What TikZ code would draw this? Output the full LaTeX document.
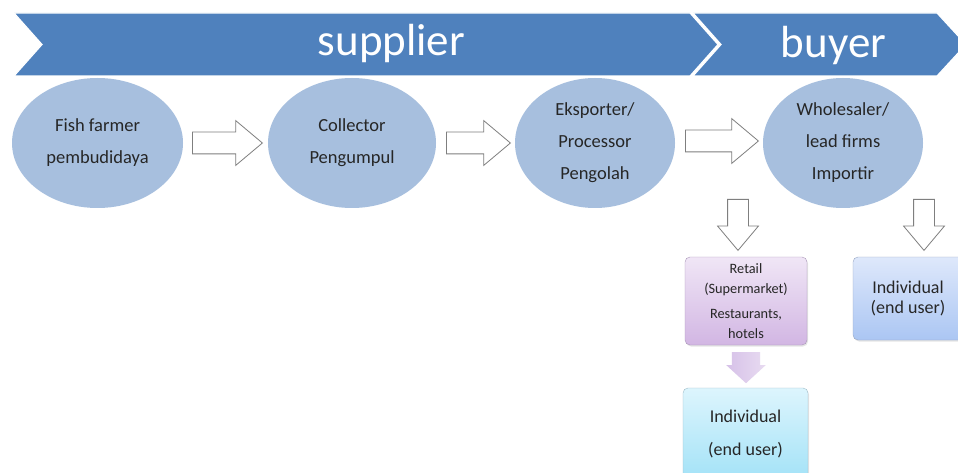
\documentclass[tikz,border=0pt]{standalone}
\usepackage{fontspec}
\setmainfont{Carlito}
\usetikzlibrary{shapes.geometric,shapes.arrows,shadows}
\definecolor{bannerblue}{HTML}{4F81BD}
\definecolor{ellblue}{HTML}{A7BFDE}
\definecolor{arrowgrey}{HTML}{7F7F7F}
\definecolor{retailtop}{HTML}{F0E6F6}
\definecolor{retailbot}{HTML}{D2B6E3}
\definecolor{retailborder}{HTML}{A996B8}
\definecolor{indtop}{HTML}{DEE8FB}
\definecolor{indbot}{HTML}{ABC6F3}
\definecolor{indborder}{HTML}{97A6C2}
\definecolor{cyantop}{HTML}{DDF5FD}
\definecolor{cyanbot}{HTML}{A3E2F7}
\definecolor{cyanborder}{HTML}{9DBBC8}
\definecolor{purpA}{HTML}{D6C1E8}
\definecolor{purpB}{HTML}{E8DBF1}
\begin{document}
\begin{tikzpicture}[x=1pt,y=-1pt,
  chevron/.style={fill=bannerblue,draw=white,line width=1.2pt,line join=miter},
  bannertext/.style={text=white,font=\fontsize{45}{50}\selectfont,anchor=base,inner sep=0pt},
  actor/.style={ellipse,fill=ellblue,inner sep=0pt,align=center,text=black!85,
    font=\fontsize{18.5}{32}\selectfont},
  flowarrow/.style={single arrow,draw=arrowgrey,fill=white,line width=0.8pt,anchor=tail,
    inner xsep=0pt,inner ysep=10.5pt,single arrow head extend=11.5pt,single arrow tip angle=80},
  downarrow/.style={flowarrow,inner ysep=10pt,single arrow head extend=10pt,
    minimum height=51pt,rotate=-90},
  outbox/.style={rounded corners=5pt,inner sep=0pt,align=center,text=black!85,
    drop shadow={opacity=0.2,shadow xshift=1pt,shadow yshift=-1.5pt}},
  retailbox/.style={outbox,draw=retailborder,top color=retailtop,bottom color=retailbot,
    minimum width=122pt,minimum height=88pt,font=\fontsize{14.3}{19.5}\selectfont},
  indbox/.style={outbox,draw=indborder,top color=indtop,bottom color=indbot,
    minimum width=110pt,minimum height=83pt,font=\fontsize{18}{20}\selectfont},
  cyanbox/.style={outbox,draw=cyanborder,top color=cyantop,bottom color=cyanbot,
    minimum width=125pt,minimum height=92pt,font=\fontsize{18}{33}\selectfont},
  softarrow/.style={single arrow,draw=none,left color=purpA,right color=purpB,anchor=tail,
    inner xsep=0pt,inner ysep=14pt,single arrow head extend=5.5pt,single arrow tip angle=95,
    minimum height=31pt,rotate=-90}
]
\clip (0,0) rectangle (958,473);
\fill[white] (0,0) rectangle (958,473);

% banner
\draw[chevron] (14,13) -- (690,13) -- (718,44.5) -- (690,76) -- (14,76) -- (42,44.5) -- cycle;
\draw[chevron] (693,13) -- (937,13) -- (966,44.5) -- (937,76) -- (693,76) -- (721,44.5) -- cycle;
\node[bannertext] (supplier) at (391.5,56) {supplier};
\node[bannertext] (buyer) at (833.5,58) {buyer};

% actors
\node[actor,minimum width=171pt,minimum height=130pt] (farmer) at (97.5,143) {Fish farmer\\pembudidaya};
\node[actor,minimum width=168pt,minimum height=130pt] (collector) at (352,143) {Collector\\Pengumpul};
\node[actor,minimum width=160pt,minimum height=130pt] (exporter) at (595,143) {Eksporter/\\Processor\\Pengolah};
\node[actor,minimum width=160pt,minimum height=130pt] (wholesaler) at (843,143) {Wholesaler/\\lead firms\\Importir};

% horizontal flow arrows (tails placed between the actors)
\node[flowarrow,minimum height=70pt] (a1) at (192,143) {};
\node[flowarrow,minimum height=64pt] (a2) at (446,143) {};
\node[flowarrow,minimum height=73pt] (a3) at (685,141) {};

% down arrows
\node[downarrow] (d1) at (738,199) {};
\node[downarrow] (d2) at (924,199) {};

% end boxes
\node[retailbox] (retail) at (746,301) {Retail\\(Supermarket)\\[6pt]Restaurants,\\hotels};
\node[indbox] (ind1) at (908,298.5) {Individual\\(end user)};
\node[softarrow] (pa) at (746,352) {};
\node[cyanbox] (ind2) at (745.5,434) {Individual\\(end user)};
\end{tikzpicture}
\end{document}
